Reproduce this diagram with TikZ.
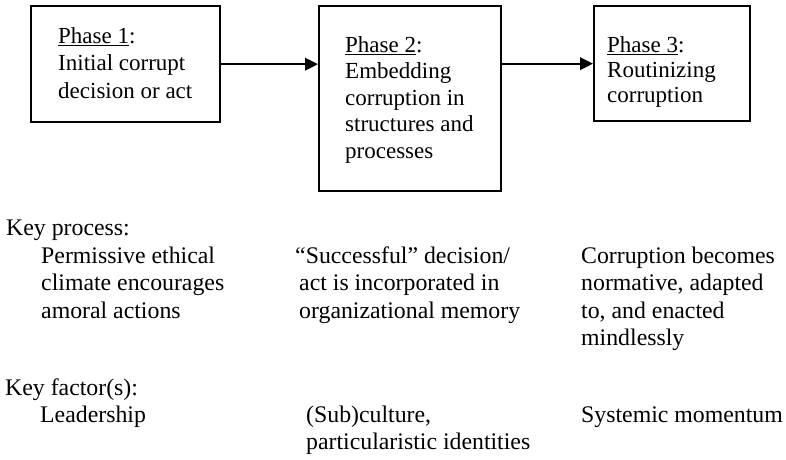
\documentclass[tikz,border=0pt]{standalone}
\usepackage{fontspec}
\setmainfont{Liberation Serif}
\usetikzlibrary{arrows.meta}
\newcommand\fls{\rule{0pt}{17pt}}
\begin{document}
\begin{tikzpicture}[x=1pt,y=-1pt,
  phasebox/.style={draw, line width=2.3pt, inner sep=0pt, anchor=north west},
  boxtext/.style={inner sep=0pt, anchor=north west, align=left, font=\fontsize{23}{26.5}\selectfont},
  keytext/.style={inner sep=0pt, anchor=north west, align=left, font=\fontsize{23.8}{27.5}\selectfont},
  flow/.style={line width=2pt, -{Triangle[length=13pt,width=12.5pt]}}]
\useasboundingbox[fill=white] (0,0) rectangle (786,459);
% phase boxes
\node[phasebox, minimum width=189pt, minimum height=116pt] (b1) at (30,5) {};
\node[phasebox, minimum width=182pt, minimum height=185pt] (b2) at (318,5) {};
\node[phasebox, minimum width=156pt, minimum height=115pt] (b3) at (593,5) {};
% box texts
\node[boxtext, font=\fontsize{23}{27.5}\selectfont] (t1) at (58,26) {\fls\underline{Phase 1}:\\Initial corrupt\\decision or act};
\node[boxtext] (t2) at (345,35) {\fls\underline{Phase 2}:\\Embedding\\corruption in\\structures and\\processes};
\node[boxtext, font=\fontsize{23}{25}\selectfont] (t3) at (607,35) {\fls\underline{Phase 3}:\\Routinizing\\corruption};
% arrows
\draw[flow] (b1.east) -- (b1.east -| b2.west);
\draw[flow] (b3.west -| b2.east) -- (b3.west);
% key process
\node[keytext] (kp) at (6,218) {\fls Key process:};
\node[keytext] (p1) at (41,246) {\fls Permissive ethical\\climate encourages\\amoral actions};
\node[keytext] (p2) at (295,246) {\fls “Successful” decision/\\\hspace{4pt}act is incorporated in\\\hspace{4pt}organizational memory};
\node[keytext] (p3) at (581,246) {\fls Corruption becomes\\normative, adapted\\to, and enacted\\mindlessly};
% key factors
\node[keytext] (kf) at (5,378) {\fls Key factor(s):};
\node[keytext] (f1) at (40,405) {\fls Leadership};
\node[keytext] (f2) at (306,405) {\fls (Sub)culture,\\particularistic identities};
\node[keytext] (f3) at (581,405) {\fls Systemic momentum};
\end{tikzpicture}
\end{document}
